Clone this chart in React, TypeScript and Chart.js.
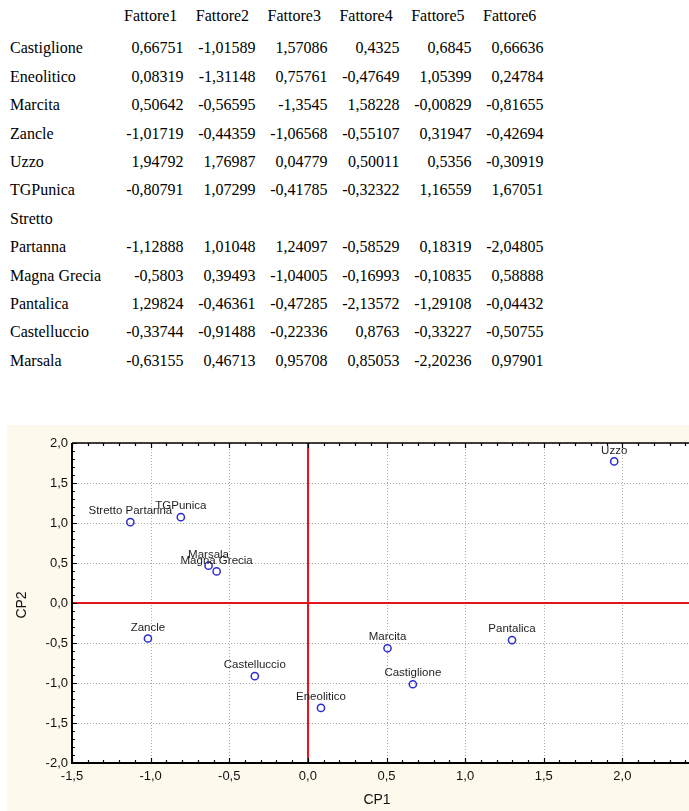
import React, { useEffect, useRef } from "react";
import { Chart, registerables } from "chart.js";

Chart.register(...registerables);

// ---------- DATA ----------
const siteNames = [
  "Castiglione",
  "Eneolitico",
  "Marcita",
  "Zancle",
  "Uzzo",
  "TGPunica",
  "Stretto Partanna",
  "Magna Grecia",
  "Pantalica",
  "Castelluccio",
  "Marsala",
];
// How the names are broken in the table (same names, table wraps one of them)
const tableLabels = [
  "Castiglione",
  "Eneolitico",
  "Marcita",
  "Zancle",
  "Uzzo",
  "TGPunica",
  "Stretto\nPartanna",
  "Magna Grecia",
  "Pantalica",
  "Castelluccio",
  "Marsala",
];
const headers = ["Fattore1", "Fattore2", "Fattore3", "Fattore4", "Fattore5", "Fattore6"];

const fattore1 = [0.66751, 0.08319, 0.50642, -1.01719, 1.94792, -0.80791, -1.12888, -0.5803, 1.29824, -0.33744, -0.63155];
const fattore2 = [-1.01589, -1.31148, -0.56595, -0.44359, 1.76987, 1.07299, 1.01048, 0.39493, -0.46361, -0.91488, 0.46713];
const fattore3 = [1.57086, 0.75761, -1.3545, -1.06568, 0.04779, -0.41785, 1.24097, -1.04005, -0.47285, -0.22336, 0.95708];
const fattore4 = [0.4325, -0.47649, 1.58228, -0.55107, 0.50011, -0.32322, -0.58529, -0.16993, -2.13572, 0.8763, 0.85053];
const fattore5 = [0.6845, 1.05399, -0.00829, 0.31947, 0.5356, 1.16559, 0.18319, -0.10835, -1.29108, -0.33227, -2.20236];
const fattore6 = [0.66636, 0.24784, -0.81655, -0.42694, -0.30919, 1.67051, -2.04805, 0.58888, -0.04432, -0.50755, 0.97901];

const columns = [fattore1, fattore2, fattore3, fattore4, fattore5, fattore6];

const xAxisTitle = "CP1";
const yAxisTitle = "CP2";
const xMin = -1.5, xMax = 2.5, yMin = -2, yMax = 2, majorStep = 0.5;

// ---------- STYLE ----------
const CREAM = "#fdf9ed";
const RED = "#e8141c";
const BLUE = "#2b2bd2";
const SANS = '"Liberation Sans", Arial, sans-serif';
const SERIF = '"Liberation Serif", "Times New Roman", serif';

const fmtComma = (v: number) => String(v).replace(".", ",");
const fmtTick = (v: number) => {
  const s = Number(v).toFixed(1);
  return (s === "-0.0" ? "0.0" : s).replace(".", ",");
};

const framePlugin = {
  id: "frameDecor",
  beforeDraw(chart: any) {
    const { ctx, width, height, chartArea: a } = chart;
    ctx.save();
    ctx.fillStyle = CREAM;
    ctx.fillRect(0, 0, width, height);
    ctx.fillStyle = "#ffffff";
    ctx.fillRect(a.left, a.top, a.right - a.left, a.bottom - a.top);
    ctx.restore();
  },
  beforeDatasetsDraw(chart: any) {
    const { ctx, chartArea: a, scales } = chart;
    const xs = scales.x, ys = scales.y;
    ctx.save();
    // dotted grid
    ctx.strokeStyle = "#a8a8a8";
    ctx.lineWidth = 1;
    ctx.setLineDash([1, 2]);
    for (let k = Math.round(xMin / majorStep); k <= Math.round(xMax / majorStep); k++) {
      const v = k * majorStep;
      if (v === 0) continue;
      const px = Math.round(xs.getPixelForValue(v)) + 0.5;
      ctx.beginPath();
      ctx.moveTo(px, a.top);
      ctx.lineTo(px, a.bottom);
      ctx.stroke();
    }
    for (let k = Math.round(yMin / majorStep); k <= Math.round(yMax / majorStep); k++) {
      const v = k * majorStep;
      if (v === 0) continue;
      const py = Math.round(ys.getPixelForValue(v)) + 0.5;
      ctx.beginPath();
      ctx.moveTo(a.left, py);
      ctx.lineTo(a.right, py);
      ctx.stroke();
    }
    ctx.setLineDash([]);
    // red zero lines
    ctx.strokeStyle = RED;
    ctx.lineWidth = 2;
    const x0 = Math.round(xs.getPixelForValue(0));
    const y0 = Math.round(ys.getPixelForValue(0));
    ctx.beginPath();
    ctx.moveTo(x0, a.top);
    ctx.lineTo(x0, a.bottom);
    ctx.moveTo(a.left, y0);
    ctx.lineTo(a.right, y0);
    ctx.stroke();
    // frame
    ctx.strokeStyle = "#000";
    ctx.lineWidth = 2;
    ctx.beginPath();
    ctx.moveTo(a.left, a.top);
    ctx.lineTo(a.left, a.bottom);
    ctx.lineTo(a.right, a.bottom);
    ctx.stroke();
    ctx.lineWidth = 1.5;
    ctx.beginPath();
    ctx.moveTo(a.left, a.top);
    ctx.lineTo(a.right, a.top);
    ctx.lineTo(a.right, a.bottom);
    ctx.stroke();
    // inward ticks
    ctx.lineWidth = 1.2;
    for (let k = Math.round(xMin * 10); k <= Math.round(xMax * 10); k++) {
      const len = k % 5 === 0 ? 5 : 3;
      const px = Math.round(xs.getPixelForValue(k / 10)) + 0.5;
      ctx.beginPath();
      ctx.moveTo(px, a.bottom);
      ctx.lineTo(px, a.bottom - len);
      ctx.moveTo(px, a.top);
      ctx.lineTo(px, a.top + len);
      ctx.stroke();
    }
    for (let k = Math.round(yMin * 10); k <= Math.round(yMax * 10); k++) {
      const len = k % 5 === 0 ? 5 : 3;
      const py = Math.round(ys.getPixelForValue(k / 10)) + 0.5;
      ctx.beginPath();
      ctx.moveTo(a.left, py);
      ctx.lineTo(a.left + len, py);
      ctx.moveTo(a.right, py);
      ctx.lineTo(a.right - len, py);
      ctx.stroke();
    }
    ctx.restore();
  },
  afterDatasetsDraw(chart: any) {
    const { ctx, chartArea: a, scales } = chart;
    const xs = scales.x, ys = scales.y;
    ctx.save();
    ctx.font = `11.5px ${SANS}`;
    ctx.fillStyle = "#1e1e1e";
    ctx.textAlign = "center";
    ctx.textBaseline = "middle";
    siteNames.forEach((name, i) => {
      const px = xs.getPixelForValue(fattore1[i]);
      const py = ys.getPixelForValue(fattore2[i]);
      ctx.fillText(name, px, py - 11);
    });
    // axis titles
    ctx.font = `14px ${SANS}`;
    ctx.fillStyle = "#111";
    ctx.fillText(xAxisTitle, a.left + 305, a.bottom + 37);
    ctx.translate(15, a.top + 162);
    ctx.rotate(-Math.PI / 2);
    ctx.fillText(yAxisTitle, 0, 0);
    ctx.restore();
  },
};

function ScatterChart() {
  const ref = useRef<HTMLCanvasElement | null>(null);
  useEffect(() => {
    if (!ref.current) return;
    const tickFont = { family: SANS, size: 13 };
    const chart = new Chart(ref.current, {
      type: "scatter",
      data: {
        datasets: [
          {
            data: fattore1.map((x, i) => ({ x, y: fattore2[i] })),
            borderColor: BLUE,
            backgroundColor: "rgba(0,0,0,0)",
            borderWidth: 1.5,
            pointRadius: 3.6,
            pointHoverRadius: 3.6,
          },
        ],
      },
      options: {
        animation: false,
        responsive: false,
        devicePixelRatio: 1,
        events: [],
        layout: { padding: { top: 18, right: 20, left: 0, bottom: 0 } },
        plugins: { legend: { display: false }, tooltip: { enabled: false } },
        scales: {
          x: {
            type: "linear",
            min: xMin,
            max: xMax,
            ticks: { stepSize: majorStep, padding: 6, color: "#111", font: tickFont, callback: (v: any) => fmtTick(v) },
            grid: { display: false, drawTicks: false },
            border: { display: false },
            afterFit: (s: any) => {
              s.height = 48;
            },
          },
          y: {
            type: "linear",
            min: yMin,
            max: yMax,
            ticks: { stepSize: majorStep, padding: 4, color: "#111", font: tickFont, callback: (v: any) => fmtTick(v) },
            grid: { display: false, drawTicks: false },
            border: { display: false },
            afterFit: (s: any) => {
              s.width = 65;
            },
          },
        },
      } as any,
      plugins: [framePlugin],
    });
    return () => chart.destroy();
  }, []);
  return (
    <canvas
      ref={ref}
      width={714}
      height={386}
      style={{ position: "absolute", left: 7, top: 425, width: 714, height: 386, display: "block" }}
    />
  );
}

function DataTable() {
  const items: React.ReactNode[] = [];
  const rowY = (line: number) => 48.3 + 28.4 * line;
  const txt = (key: string, text: string, x: number, y: number, align: "left" | "right") => (
    <div
      key={key}
      style={{
        position: "absolute",
        top: y - 10,
        height: 20,
        lineHeight: "20px",
        whiteSpace: "nowrap",
        ...(align === "left" ? { left: x } : { right: 689 - x }),
      }}
    >
      {text}
    </div>
  );
  headers.forEach((h, j) => items.push(txt("h" + j, h, 124 + 71.8 * j, 16, "left")));
  let line = 0;
  tableLabels.forEach((label, i) => {
    const parts = label.split("\n");
    parts.forEach((p, k) => {
      items.push(txt(`n${i}-${k}`, p, 10, rowY(line), "left"));
      if (k < parts.length - 1) line++;
    });
    columns.forEach((col, j) => items.push(txt(`v${i}-${j}`, fmtComma(col[i]), 183.5 + 72 * j, rowY(line), "right")));
    line++;
  });
  return (
    <div style={{ position: "absolute", left: 0, top: 0, width: 689, height: 400, fontFamily: SERIF, fontSize: 16, color: "#000" }}>
      {items}
    </div>
  );
}

export default function App() {
  return (
    <div
      style={{
        position: "fixed",
        left: 0,
        top: 0,
        width: 689,
        height: 811,
        overflow: "hidden",
        background: "#ffffff",
      }}
    >
      <DataTable />
      <ScatterChart />
    </div>
  );
}
